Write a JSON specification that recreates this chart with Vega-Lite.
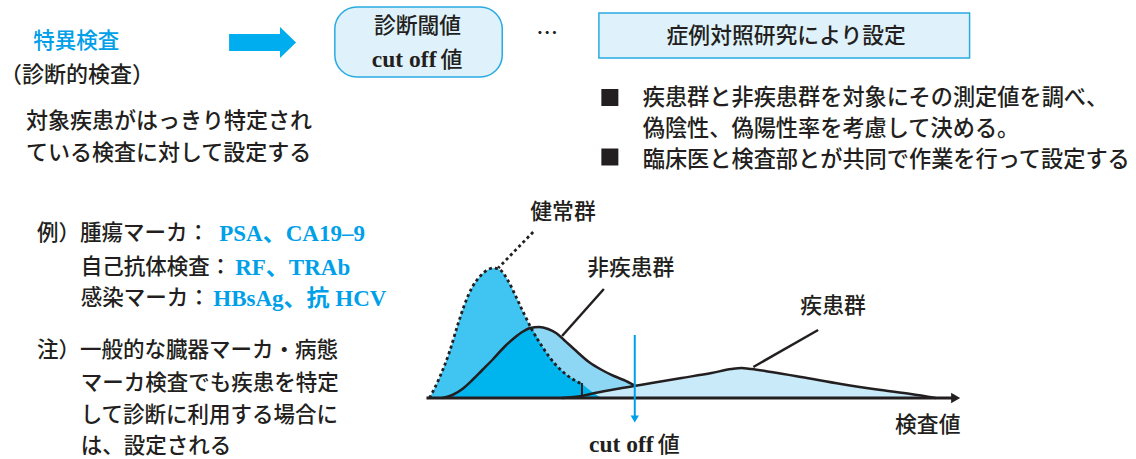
{
  "$schema": "https://vega.github.io/schema/vega-lite/v6.json",
  "width": 1136,
  "height": 459,
  "autosize": {"type": "fit", "contains": "padding"},
  "padding": 0,
  "background": "#ffffff",
  "config": {"view": {"stroke": null}},
  "datasets": {
    "curves": [
      {"g": "nondis", "x": 440, "y": 398}, {"g": "nondis", "x": 450, "y": 395}, {"g": "nondis", "x": 460, "y": 389}, {"g": "nondis", "x": 470, "y": 380}, {"g": "nondis", "x": 480, "y": 370}, {"g": "nondis", "x": 490, "y": 360}, {"g": "nondis", "x": 503, "y": 346}, {"g": "nondis", "x": 512, "y": 338}, {"g": "nondis", "x": 520, "y": 332}, {"g": "nondis", "x": 528, "y": 328}, {"g": "nondis", "x": 537, "y": 327}, {"g": "nondis", "x": 546, "y": 329}, {"g": "nondis", "x": 554, "y": 333}, {"g": "nondis", "x": 562, "y": 340}, {"g": "nondis", "x": 572, "y": 349}, {"g": "nondis", "x": 587, "y": 362}, {"g": "nondis", "x": 600, "y": 370}, {"g": "nondis", "x": 612, "y": 376}, {"g": "nondis", "x": 622, "y": 380}, {"g": "nondis", "x": 632, "y": 385}, {"g": "nondis", "x": 645, "y": 391}, {"g": "nondis", "x": 660, "y": 396}, {"g": "nondis", "x": 670, "y": 398},
      {"g": "disease", "x": 560, "y": 398}, {"g": "disease", "x": 580, "y": 396}, {"g": "disease", "x": 593, "y": 393}, {"g": "disease", "x": 620, "y": 388}, {"g": "disease", "x": 650, "y": 383}, {"g": "disease", "x": 680, "y": 378}, {"g": "disease", "x": 710, "y": 373}, {"g": "disease", "x": 730, "y": 369}, {"g": "disease", "x": 740, "y": 368}, {"g": "disease", "x": 750, "y": 369}, {"g": "disease", "x": 770, "y": 372}, {"g": "disease", "x": 800, "y": 377}, {"g": "disease", "x": 840, "y": 384}, {"g": "disease", "x": 880, "y": 390}, {"g": "disease", "x": 910, "y": 394}, {"g": "disease", "x": 935, "y": 398},
      {"g": "healthy", "x": 427, "y": 398}, {"g": "healthy", "x": 436, "y": 380}, {"g": "healthy", "x": 447, "y": 352}, {"g": "healthy", "x": 455, "y": 326}, {"g": "healthy", "x": 462, "y": 305}, {"g": "healthy", "x": 470, "y": 287}, {"g": "healthy", "x": 478, "y": 276}, {"g": "healthy", "x": 485, "y": 270}, {"g": "healthy", "x": 491, "y": 268}, {"g": "healthy", "x": 498, "y": 270}, {"g": "healthy", "x": 506, "y": 281}, {"g": "healthy", "x": 513, "y": 295}, {"g": "healthy", "x": 521, "y": 312}, {"g": "healthy", "x": 530, "y": 330}, {"g": "healthy", "x": 541, "y": 348}, {"g": "healthy", "x": 553, "y": 364}, {"g": "healthy", "x": 566, "y": 376}, {"g": "healthy", "x": 580, "y": 384}, {"g": "healthy", "x": 590, "y": 392}, {"g": "healthy", "x": 600, "y": 398},
      {"g": "overlap", "x": 440, "y": 398}, {"g": "overlap", "x": 450, "y": 395}, {"g": "overlap", "x": 460, "y": 389}, {"g": "overlap", "x": 470, "y": 380}, {"g": "overlap", "x": 480, "y": 370}, {"g": "overlap", "x": 490, "y": 360}, {"g": "overlap", "x": 503, "y": 346}, {"g": "overlap", "x": 512, "y": 338}, {"g": "overlap", "x": 520, "y": 332}, {"g": "overlap", "x": 528, "y": 329}, {"g": "overlap", "x": 530, "y": 330}, {"g": "overlap", "x": 541, "y": 348}, {"g": "overlap", "x": 553, "y": 364}, {"g": "overlap", "x": 566, "y": 376}, {"g": "overlap", "x": 580, "y": 384}, {"g": "overlap", "x": 590, "y": 392}, {"g": "overlap", "x": 600, "y": 398}
    ],
    "strokes": [
      {"g": "nondis", "x": 440, "y": 398}, {"g": "nondis", "x": 450, "y": 395}, {"g": "nondis", "x": 460, "y": 389}, {"g": "nondis", "x": 470, "y": 380}, {"g": "nondis", "x": 480, "y": 370}, {"g": "nondis", "x": 490, "y": 360}, {"g": "nondis", "x": 503, "y": 346}, {"g": "nondis", "x": 512, "y": 338}, {"g": "nondis", "x": 520, "y": 332}, {"g": "nondis", "x": 528, "y": 328}, {"g": "nondis", "x": 537, "y": 327}, {"g": "nondis", "x": 546, "y": 329}, {"g": "nondis", "x": 554, "y": 333}, {"g": "nondis", "x": 562, "y": 340}, {"g": "nondis", "x": 572, "y": 349}, {"g": "nondis", "x": 587, "y": 362}, {"g": "nondis", "x": 600, "y": 370}, {"g": "nondis", "x": 612, "y": 376}, {"g": "nondis", "x": 622, "y": 380}, {"g": "nondis", "x": 632, "y": 385},
      {"g": "disease", "x": 560, "y": 398}, {"g": "disease", "x": 580, "y": 396}, {"g": "disease", "x": 593, "y": 393}, {"g": "disease", "x": 620, "y": 388}, {"g": "disease", "x": 650, "y": 383}, {"g": "disease", "x": 680, "y": 378}, {"g": "disease", "x": 710, "y": 373}, {"g": "disease", "x": 730, "y": 369}, {"g": "disease", "x": 740, "y": 368}, {"g": "disease", "x": 750, "y": 369}, {"g": "disease", "x": 770, "y": 372}, {"g": "disease", "x": 800, "y": 377}, {"g": "disease", "x": 840, "y": 384}, {"g": "disease", "x": 880, "y": 390}, {"g": "disease", "x": 910, "y": 394}, {"g": "disease", "x": 935, "y": 398},
      {"g": "healthy", "x": 427, "y": 398}, {"g": "healthy", "x": 436, "y": 380}, {"g": "healthy", "x": 447, "y": 352}, {"g": "healthy", "x": 455, "y": 326}, {"g": "healthy", "x": 462, "y": 305}, {"g": "healthy", "x": 470, "y": 287}, {"g": "healthy", "x": 478, "y": 276}, {"g": "healthy", "x": 485, "y": 270}, {"g": "healthy", "x": 491, "y": 268}, {"g": "healthy", "x": 498, "y": 270}, {"g": "healthy", "x": 506, "y": 281}, {"g": "healthy", "x": 513, "y": 295}, {"g": "healthy", "x": 521, "y": 312}, {"g": "healthy", "x": 530, "y": 330}, {"g": "healthy", "x": 541, "y": 348}, {"g": "healthy", "x": 553, "y": 364}, {"g": "healthy", "x": 566, "y": 376}, {"g": "healthy", "x": 580, "y": 384}
    ],
    "segs": [
      {"g": "solid", "x": 424, "y": 398, "x2": 952, "y2": 398},
      {"g": "thin", "x": 580, "y": 383, "x2": 580, "y2": 398},
      {"g": "pointer", "x": 602, "y": 289, "x2": 560, "y2": 336},
      {"g": "pointer", "x": 817, "y": 330, "x2": 752, "y2": 367},
      {"g": "dotted", "x": 531, "y": 232, "x2": 496, "y2": 268},
      {"g": "cut", "x": 633, "y": 335, "x2": 633, "y2": 416}
    ],
    "boxes": [
      {"g": "round", "x": 332, "y": 7, "x2": 500, "y2": 77},
      {"g": "square", "x": 597, "y": 13, "x2": 969, "y2": 58}
    ],
    "symbols": [
      {"g": "bigarrow", "x": 259.5, "y": 42.5},
      {"g": "bullet", "x": 608, "y": 97.5},
      {"g": "bullet", "x": 608, "y": 157},
      {"g": "axishead", "x": 955, "y": 398},
      {"g": "cuthead", "x": 633, "y": 419}
    ],
    "texts": [
      {"g": "cyanc", "x": 72.5, "y": 42, "t": "特異検査"},
      {"g": "blackl", "x": -4, "y": 75, "t": "（診断的検査）"},
      {"g": "blackl", "x": 22, "y": 121, "t": "対象疾患がはっきり特定され"},
      {"g": "blackl", "x": 22, "y": 153, "t": "ている検査に対して設定する"},
      {"g": "blackc", "x": 415, "y": 26, "t": "診断閾値"},
      {"g": "serifr", "x": 434, "y": 60, "t": "cut off"},
      {"g": "jpl", "x": 438, "y": 60, "t": "値"},
      {"g": "blackc", "x": 545, "y": 33, "t": "…"},
      {"g": "blackc", "x": 785, "y": 36, "t": "症例対照研究により設定"},
      {"g": "bullet", "x": 641, "y": 98, "t": "疾患群と非疾患群を対象にその測定値を調べ、"},
      {"g": "bullet", "x": 641, "y": 129, "t": "偽陰性、偽陽性率を考慮して決める。"},
      {"g": "bullet", "x": 641, "y": 160, "t": "臨床医と検査部とが共同で作業を行って設定する"},
      {"g": "small", "x": 33, "y": 234, "t": "例）腫瘍マーカ："},
      {"g": "small", "x": 77, "y": 268, "t": "自己抗体検査："},
      {"g": "small", "x": 77, "y": 299, "t": "感染マーカ："},
      {"g": "cyanl", "x": 216, "y": 234, "t": "PSA、CA19–9"},
      {"g": "cyanl", "x": 232, "y": 268, "t": "RF、TRAb"},
      {"g": "cyanl", "x": 210, "y": 299, "t": "HBsAg、抗 HCV"},
      {"g": "small", "x": 33, "y": 351, "t": "注）一般的な臓器マーカ・病態"},
      {"g": "small", "x": 77, "y": 384, "t": "マーカ検査でも疾患を特定"},
      {"g": "small", "x": 77, "y": 416, "t": "して診断に利用する場合に"},
      {"g": "small", "x": 77, "y": 447, "t": "は、設定される"},
      {"g": "blackc", "x": 561, "y": 212, "t": "健常群"},
      {"g": "blackc", "x": 629, "y": 268, "t": "非疾患群"},
      {"g": "blackc", "x": 832, "y": 306, "t": "疾患群"},
      {"g": "blackc", "x": 927, "y": 425, "t": "検査値"},
      {"g": "serifr", "x": 652, "y": 445, "t": "cut off"},
      {"g": "jpl", "x": 656, "y": 445, "t": "値"}
    ]
  },
  "encoding": {
    "x": {"field": "x", "type": "quantitative", "scale": {"domain": [0, 1136], "nice": false, "zero": false}, "axis": null},
    "y": {"field": "y", "type": "quantitative", "scale": {"domain": [0, 459], "nice": false, "zero": false, "reverse": true}, "axis": null}
  },
  "layer": [
    {"data": {"name": "curves"}, "transform": [{"filter": "datum.g === 'nondis'"}], "mark": {"type": "area", "interpolate": "monotone", "color": "#8dd7f5"}, "encoding": {"y2": {"datum": 398}}},
    {"data": {"name": "curves"}, "transform": [{"filter": "datum.g === 'disease'"}], "mark": {"type": "area", "interpolate": "monotone", "color": "#c8eaf9"}, "encoding": {"y2": {"datum": 398}}},
    {"data": {"name": "curves"}, "transform": [{"filter": "datum.g === 'healthy'"}], "mark": {"type": "area", "interpolate": "monotone", "color": "#40c4f2"}, "encoding": {"y2": {"datum": 398}}},
    {"data": {"name": "curves"}, "transform": [{"filter": "datum.g === 'overlap'"}], "mark": {"type": "area", "interpolate": "monotone", "color": "#00b5ee"}, "encoding": {"y2": {"datum": 398}}},
    {"data": {"name": "strokes"}, "transform": [{"filter": "datum.g === 'nondis'"}], "mark": {"type": "line", "interpolate": "monotone", "color": "#231f20", "strokeWidth": 2.5}, "encoding": {}},
    {"data": {"name": "strokes"}, "transform": [{"filter": "datum.g === 'disease'"}], "mark": {"type": "line", "interpolate": "monotone", "color": "#231f20", "strokeWidth": 2.5}, "encoding": {}},
    {"data": {"name": "strokes"}, "transform": [{"filter": "datum.g === 'healthy'"}], "mark": {"type": "line", "interpolate": "monotone", "color": "#231f20", "strokeWidth": 2.8, "strokeDash": [3, 3]}, "encoding": {}},
    {"data": {"name": "boxes"}, "transform": [{"filter": "datum.g === 'round'"}], "mark": {"type": "rect", "fill": "#dff2fb", "stroke": "#29abe2", "strokeWidth": 1.5, "cornerRadius": 22}, "encoding": {"x2": {"field": "x2"}, "y2": {"field": "y2"}}},
    {"data": {"name": "boxes"}, "transform": [{"filter": "datum.g === 'square'"}], "mark": {"type": "rect", "fill": "#dff2fb", "stroke": "#29abe2", "strokeWidth": 1.5}, "encoding": {"x2": {"field": "x2"}, "y2": {"field": "y2"}}},
    {"data": {"name": "segs"}, "transform": [{"filter": "datum.g === 'solid'"}], "mark": {"type": "rule", "color": "#231f20", "strokeWidth": 3}, "encoding": {"x2": {"field": "x2"}, "y2": {"field": "y2"}}},
    {"data": {"name": "segs"}, "transform": [{"filter": "datum.g === 'thin'"}], "mark": {"type": "rule", "color": "#231f20", "strokeWidth": 2}, "encoding": {"x2": {"field": "x2"}, "y2": {"field": "y2"}}},
    {"data": {"name": "segs"}, "transform": [{"filter": "datum.g === 'pointer'"}], "mark": {"type": "rule", "color": "#231f20", "strokeWidth": 2.5}, "encoding": {"x2": {"field": "x2"}, "y2": {"field": "y2"}}},
    {"data": {"name": "segs"}, "transform": [{"filter": "datum.g === 'dotted'"}], "mark": {"type": "rule", "color": "#231f20", "strokeWidth": 2.8, "strokeDash": [3, 3]}, "encoding": {"x2": {"field": "x2"}, "y2": {"field": "y2"}}},
    {"data": {"name": "segs"}, "transform": [{"filter": "datum.g === 'cut'"}], "mark": {"type": "rule", "color": "#00a0e9", "strokeWidth": 2}, "encoding": {"x2": {"field": "x2"}, "y2": {"field": "y2"}}},
    {"data": {"name": "symbols"}, "transform": [{"filter": "datum.g === 'bigarrow'"}], "mark": {"type": "point", "filled": true, "opacity": 1, "color": "#00aeef", "size": 4489, "shape": "M-1,-0.254L0.52,-0.254L0.52,-0.463L1,0L0.52,0.463L0.52,0.254L-1,0.254Z"}},
    {"data": {"name": "symbols"}, "transform": [{"filter": "datum.g === 'bullet'"}], "mark": {"type": "point", "filled": true, "opacity": 1, "color": "#231f20", "size": 289, "shape": "square"}},
    {"data": {"name": "symbols"}, "transform": [{"filter": "datum.g === 'axishead'"}], "mark": {"type": "point", "filled": true, "opacity": 1, "color": "#231f20", "size": 110, "shape": "triangle-right"}},
    {"data": {"name": "symbols"}, "transform": [{"filter": "datum.g === 'cuthead'"}], "mark": {"type": "point", "filled": true, "opacity": 1, "color": "#00a0e9", "size": 70, "shape": "triangle-down"}},
    {"data": {"name": "texts"}, "transform": [{"filter": "datum.g === 'blackl'"}], "mark": {"type": "text", "align": "left", "baseline": "middle", "font": "Noto Sans CJK JP", "fontWeight": 500, "fontSize": 22, "color": "#231f20"}, "encoding": {"text": {"field": "t"}}},
    {"data": {"name": "texts"}, "transform": [{"filter": "datum.g === 'bullet'"}], "mark": {"type": "text", "align": "left", "baseline": "middle", "font": "Noto Sans CJK JP", "fontWeight": 500, "fontSize": 22.2, "color": "#231f20"}, "encoding": {"text": {"field": "t"}}},
    {"data": {"name": "texts"}, "transform": [{"filter": "datum.g === 'small'"}], "mark": {"type": "text", "align": "left", "baseline": "middle", "font": "Noto Sans CJK JP", "fontWeight": 500, "fontSize": 21.5, "color": "#231f20"}, "encoding": {"text": {"field": "t"}}},
    {"data": {"name": "texts"}, "transform": [{"filter": "datum.g === 'jpl'"}], "mark": {"type": "text", "align": "left", "baseline": "middle", "font": "Noto Sans CJK JP", "fontWeight": 500, "fontSize": 22, "color": "#231f20"}, "encoding": {"text": {"field": "t"}}},
    {"data": {"name": "texts"}, "transform": [{"filter": "datum.g === 'blackc'"}], "mark": {"type": "text", "align": "center", "baseline": "middle", "font": "Noto Sans CJK JP", "fontWeight": 500, "fontSize": 21.8, "color": "#231f20"}, "encoding": {"text": {"field": "t"}}},
    {"data": {"name": "texts"}, "transform": [{"filter": "datum.g === 'cyanc'"}], "mark": {"type": "text", "align": "center", "baseline": "middle", "font": "Noto Sans CJK JP", "fontWeight": 500, "fontSize": 21.5, "color": "#00a0e9"}, "encoding": {"text": {"field": "t"}}},
    {"data": {"name": "texts"}, "transform": [{"filter": "datum.g === 'serifr'"}], "mark": {"type": "text", "align": "right", "baseline": "middle", "font": "Liberation Serif", "fontWeight": "bold", "fontSize": 23.5, "color": "#231f20"}, "encoding": {"text": {"field": "t"}}},
    {"data": {"name": "texts"}, "transform": [{"filter": "datum.g === 'cyanl'"}], "mark": {"type": "text", "align": "left", "baseline": "middle", "font": "Liberation Serif, Noto Sans CJK JP", "fontWeight": "bold", "fontSize": 23, "color": "#00a0e9"}, "encoding": {"text": {"field": "t"}}}
  ]
}
